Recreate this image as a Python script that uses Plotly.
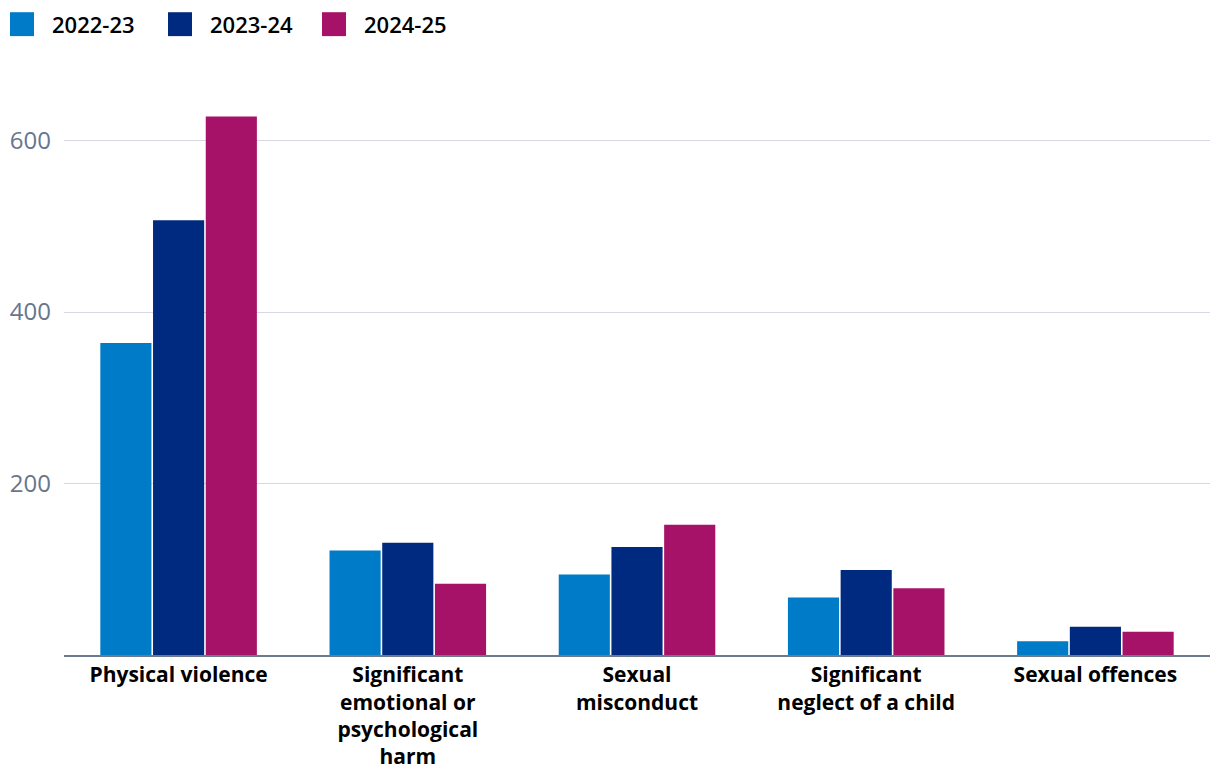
import plotly.graph_objects as go

categories = ["Physical violence",
              "Significant<br>emotional or<br>psychological<br>harm",
              "Sexual<br>misconduct",
              "Significant<br>neglect of a child",
              "Sexual offences"]
series_names = ["2022-23", "2023-24", "2024-25"]
v_2022_23 = [364, 122, 94, 67, 16]
v_2023_24 = [507, 131, 126, 99, 33]
v_2024_25 = [628, 83, 152, 78, 27]
colors = ["#007bc7", "#002a7f", "#a61268"]
tick_vals = [200, 400, 600]

W, H = 1204, 764
L, R, T, B = 56, 2, 64, 115
OFF = 8  # page body margin
PW, PH = W - L - R, H - T - B

def px_x(p):
    return (p - OFF - L) / PW

def px_y(p):
    return (H - B + OFF - p) / PH

fig = go.Figure()
for name, vals, c in zip(series_names, [v_2022_23, v_2023_24, v_2024_25], colors):
    fig.add_trace(go.Bar(x=categories, y=vals, name=name, marker_color=c,
                         marker_line_width=0, showlegend=False))

# manual legend
leg_x = [10, 168, 322]
for name, c, lx in zip(series_names, colors, leg_x):
    fig.add_shape(type="rect", xref="paper", yref="paper",
                  x0=px_x(lx), x1=px_x(lx + 24), y0=px_y(36), y1=px_y(12),
                  fillcolor=c, line_width=0)
    fig.add_annotation(xref="paper", yref="paper", x=px_x(lx + 40), y=px_y(24),
                       xanchor="left", yanchor="middle", text=name, showarrow=False,
                       font=dict(family="Open Sans", size=22, weight=600, color="#000"))

fig.update_layout(
    width=W, height=H,
    margin=dict(l=L, r=R, t=T, b=B),
    paper_bgcolor="white", plot_bgcolor="white",
    barmode="group", bargap=0.31, bargroupgap=0.03,
    font=dict(family="Open Sans", size=20, color="#000000"),
    showlegend=False,
    xaxis=dict(showgrid=False, showline=True, linecolor="#6b7a8f", linewidth=2,
               ticks="", tickfont=dict(size=21, family="Open Sans", weight=700, color="#000")),
    yaxis=dict(range=[0, 680], tickvals=tick_vals, showgrid=True, gridcolor="#d6d9e4",
               gridwidth=1, zeroline=False, showline=False, ticks="",
               tickfont=dict(size=24, family="Open Sans", color="#66768f"), ticklabelstandoff=12),
)
fig.write_html("out.html")
